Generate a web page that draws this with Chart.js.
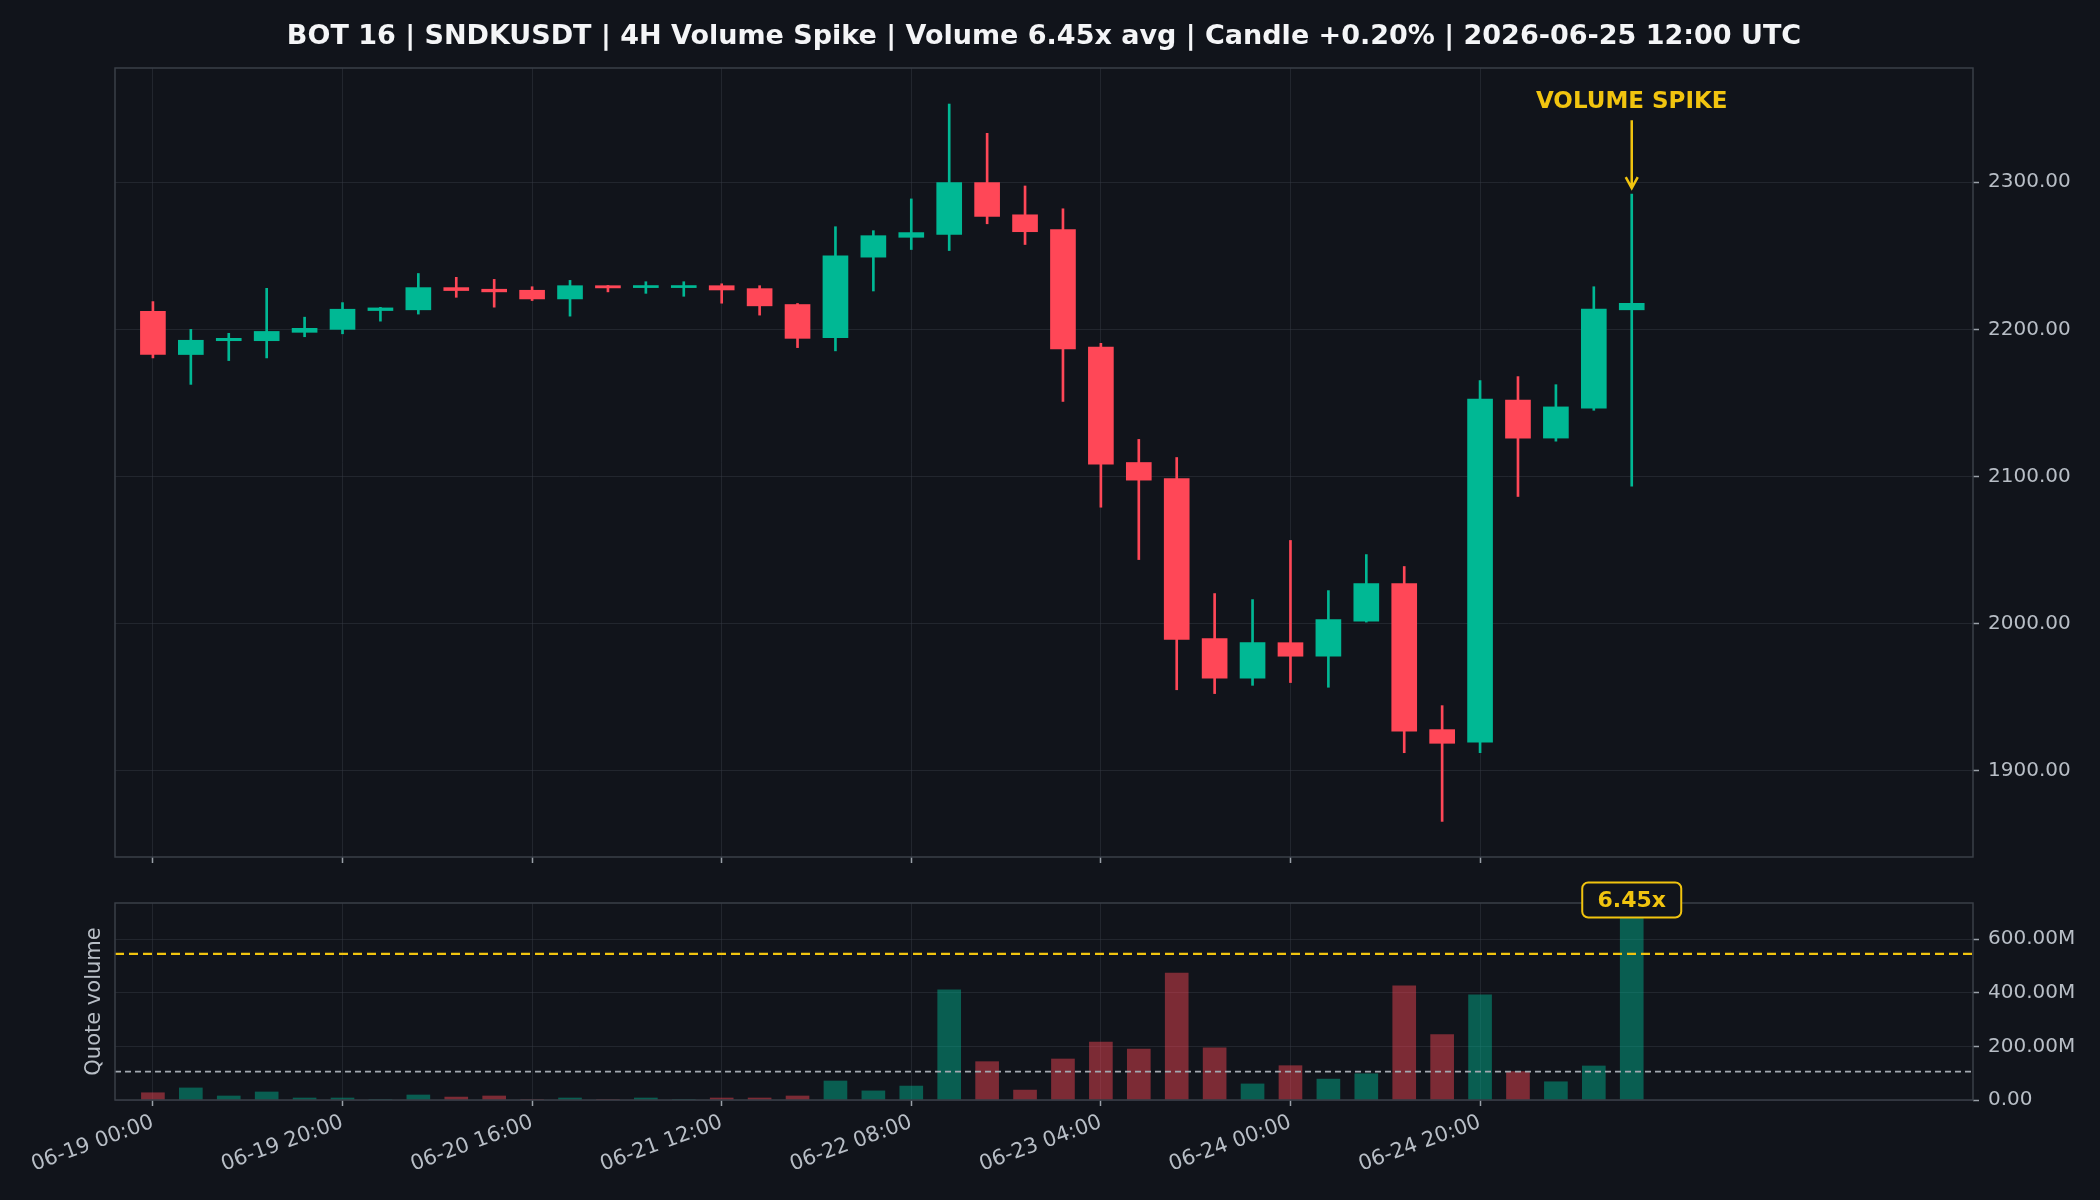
<!DOCTYPE html>
<html>
<head>
<meta charset="utf-8">
<script src="https://cdn.jsdelivr.net/npm/chart.js@4.4.1/dist/chart.umd.min.js"></script>
<style>
  html, body { margin: 0; padding: 0; background: #11141b; }
  #wrap { position: relative; width: 2100px; height: 1200px; overflow: hidden; }
  canvas { position: absolute; left: 0; }
  #priceChart { top: 0; }
  #volChart { top: 860px; }
</style>
</head>
<body>
<div id="wrap">
  <canvas id="priceChart" width="2100" height="880"></canvas>
  <canvas id="volChart" width="2100" height="340"></canvas>
</div>
<script>
// candle data (4H)
const opens  = [2212.2, 2182.9, 2192.3, 2192.3, 2198.0, 2200.0, 2212.8, 2213.3, 2228.4, 2227.3,
                2226.6, 2220.7, 2229.7, 2228.4, 2228.4, 2229.7, 2227.7, 2216.9, 2194.4, 2249.1,
                2262.6, 2264.6, 2299.8, 2277.9, 2267.8, 2188.0, 2109.5, 2098.6, 1989.8, 1962.8,
                1987.0, 1977.8, 2001.6, 2027.2, 1927.9, 1919.3, 2152.0, 2126.1, 2146.4, 2213.3];
const highs  = [2218.9, 2200.0, 2197.3, 2227.9, 2208.3, 2218.2, 2215.0, 2238.0, 2235.4, 2234.0,
                2229.0, 2233.3, 2229.9, 2232.4, 2232.4, 2231.0, 2229.7, 2217.6, 2269.8, 2267.1,
                2288.7, 2353.2, 2333.3, 2297.5, 2282.0, 2190.5, 2125.2, 2112.9, 2020.4, 2016.3,
                2056.5, 2022.4, 2046.9, 2038.8, 1944.2, 2165.2, 2167.9, 2162.4, 2229.0, 2291.9];
const lows   = [2180.6, 2162.6, 2178.8, 2180.6, 2195.0, 2197.0, 2205.6, 2210.4, 2221.8, 2215.1,
                2219.6, 2209.0, 2225.5, 2224.5, 2222.5, 2217.8, 2209.7, 2187.6, 2185.4, 2226.1,
                2254.3, 2253.6, 2271.8, 2257.7, 2151.0, 2079.1, 2043.5, 1955.0, 1952.4, 1958.0,
                1959.9, 1956.7, 2001.0, 1912.2, 1865.5, 1912.2, 2086.4, 2124.0, 2145.0, 2093.4];
const closes = [2182.9, 2192.6, 2193.9, 2198.6, 2200.7, 2213.7, 2214.6, 2228.4, 2226.4, 2225.5,
                2220.7, 2229.7, 2228.2, 2229.8, 2229.8, 2226.8, 2216.0, 2193.9, 2250.0, 2263.7,
                2265.8, 2299.8, 2276.8, 2266.4, 2186.7, 2108.4, 2097.5, 1989.3, 1962.8, 1987.0,
                1977.8, 2002.7, 2027.2, 1926.8, 1918.6, 2152.7, 2126.1, 2147.3, 2213.8, 2217.7];
// quote volume in millions
const volumesM = [27, 45, 15, 30, 7.5, 7.5, 1.5, 18.7, 11, 15,
                  1.5, 7.5, 1.5, 7.5, 1.5, 7.5, 7.5, 15, 71, 34,
                  52, 411, 143, 37, 153, 216, 190, 474, 195, 60,
                  128, 78, 98, 426, 244, 392, 106, 68, 127, 679];
const avgVolumeM = 106;
const thresholdM = 545;

const tickPositions = [0, 5, 10, 15, 20, 25, 30, 35];
const tickLabels = ['06-19 00:00', '06-19 20:00', '06-20 16:00', '06-21 12:00',
                    '06-22 08:00', '06-23 04:00', '06-24 00:00', '06-24 20:00'];
const priceTicks = [1900, 2000, 2100, 2200, 2300];
const volumeTicksM = [0, 200, 400, 600];

const titleText = 'BOT 16 | SNDKUSDT | 4H Volume Spike | Volume 6.45x avg | Candle +0.20% | 2026-06-25 12:00 UTC';
const spikeLabel = '6.45x';
const spikeIndex = 39;

const BG = '#11141b';
const GREEN = '#00b894';
const RED = '#ff4757';
const GREEN_VOL = 'rgba(0, 184, 148, 0.45)';
const RED_VOL = 'rgba(255, 71, 87, 0.45)';
const YELLOW = '#f1c40f';
const GRID = 'rgba(55, 60, 72, 0.45)';
const TICK = '#9aa0a8';
const TEXT = '#b8bec6';
const BORDER = '#3a3f48';

Chart.defaults.font.family = '"DejaVu Sans", sans-serif';

const isUp = opens.map((o, i) => closes[i] >= o);

// draw the full frame round each panel
const panelBorder = {
  id: 'panelBorder',
  afterDraw(chart) {
    const a = chart.chartArea, ctx = chart.ctx;
    ctx.save();
    ctx.strokeStyle = BORDER;
    ctx.lineWidth = 1.5;
    ctx.strokeRect(a.left, a.top, a.right - a.left, a.bottom - a.top);
    ctx.restore();
  }
};

const priceNotes = {
  id: 'priceNotes',
  afterDraw(chart) {
    const ctx = chart.ctx;
    const a = chart.chartArea;
    const xs = chart.scales.x, ys = chart.scales.y;
    ctx.save();
    // title, centred over the plot
    ctx.fillStyle = '#f4f5f7';
    ctx.font = 'bold 27px "DejaVu Sans"';
    ctx.textAlign = 'center';
    ctx.textBaseline = 'middle';
    ctx.fillText(titleText, (a.left + a.right) / 2, 37);

    // volume spike arrow
    const sx = xs.getPixelForValue(spikeIndex);
    const tip = ys.getPixelForValue(highs[spikeIndex]) - 6;
    ctx.strokeStyle = YELLOW;
    ctx.lineWidth = 2.5;
    ctx.beginPath();
    ctx.moveTo(sx, tip - 68);
    ctx.lineTo(sx, tip);
    ctx.moveTo(sx - 6, tip - 11);
    ctx.lineTo(sx, tip);
    ctx.lineTo(sx + 6, tip - 11);
    ctx.stroke();
    ctx.fillStyle = YELLOW;
    ctx.font = 'bold 23px "DejaVu Sans"';
    ctx.textBaseline = 'alphabetic';
    ctx.fillText('VOLUME SPIKE', sx, tip - 80);
    ctx.restore();
  }
};

const volNotes = {
  id: 'volNotes',
  afterDraw(chart) {
    const ctx = chart.ctx;
    const a = chart.chartArea;
    const xs = chart.scales.x, ys = chart.scales.y;
    ctx.save();
    // y label on the left
    ctx.translate(95, (a.top + a.bottom) / 2);
    ctx.rotate(-Math.PI / 2);
    ctx.fillStyle = TEXT;
    ctx.font = '21px "DejaVu Sans"';
    ctx.textAlign = 'center';
    ctx.textBaseline = 'middle';
    ctx.fillText('Quote volume', 0, 0);
    ctx.restore();

    // ratio badge over the spike bar
    const bx = xs.getPixelForValue(spikeIndex);
    const by = ys.getPixelForValue(volumesM[spikeIndex]) - 18;
    const w = 99, h = 35;
    ctx.save();
    ctx.beginPath();
    ctx.roundRect(bx - w / 2, by - h / 2, w, h, 6);
    ctx.fillStyle = BG;
    ctx.fill();
    ctx.strokeStyle = YELLOW;
    ctx.lineWidth = 2;
    ctx.stroke();
    ctx.fillStyle = YELLOW;
    ctx.font = 'bold 22px "DejaVu Sans"';
    ctx.textAlign = 'center';
    ctx.textBaseline = 'middle';
    ctx.fillText(spikeLabel, bx, by + 1);
    ctx.restore();
  }
};

function xScale(showLabels) {
  return {
    type: 'linear', min: -1, max: 48, offset: false, z: 1,
    grid: { color: GRID, offset: false, tickColor: TICK, tickLength: 6, tickWidth: 1.5 },
    border: { display: false },
    ticks: {
      display: showLabels, color: TEXT, font: { size: 21 }, autoSkip: false,
      minRotation: 20, maxRotation: 20, padding: 4,
      callback: (v, i) => tickLabels[i]
    },
    afterBuildTicks: s => { s.ticks = tickPositions.map(v => ({ value: v })); },
    afterFit: s => { s.height = showLabels ? 100 : 23; }
  };
}

// price panel
new Chart(document.getElementById('priceChart'), {
  type: 'bar',
  data: {
    datasets: [
      {
        label: 'wick',
        data: lows.map((l, i) => ({ x: i, y: [l, highs[i]] })),
        backgroundColor: isUp.map(u => u ? GREEN : RED),
        barThickness: 2,
        grouped: false,
        order: 2
      },
      {
        label: 'body',
        data: opens.map((o, i) => ({ x: i, y: [o, closes[i]] })),
        backgroundColor: isUp.map(u => u ? GREEN : RED),
        barThickness: 25,
        grouped: false,
        order: 1
      }
    ]
  },
  options: {
    responsive: false,
    animation: false,
    devicePixelRatio: 1,
    layout: { padding: { left: 115, top: 68, right: 0, bottom: 0 } },
    plugins: { legend: { display: false }, tooltip: { enabled: false } },
    scales: {
      x: xScale(false),
      y: {
        type: 'linear', position: 'right', min: 1841.3, max: 2377.7, z: 1,
        grid: { color: GRID, tickColor: TICK, tickLength: 6, tickWidth: 1.5 },
        border: { display: false },
        ticks: { color: TEXT, font: { size: 20 }, padding: 9, callback: v => v.toFixed(2) },
        afterBuildTicks: s => { s.ticks = priceTicks.map(v => ({ value: v })); },
        afterFit: s => { s.width = 127; }
      }
    }
  },
  plugins: [panelBorder, priceNotes]
});

// volume panel
new Chart(document.getElementById('volChart'), {
  type: 'bar',
  data: {
    datasets: [
      {
        type: 'line',
        label: 'spike threshold',
        data: [{ x: -1, y: thresholdM }, { x: 48, y: thresholdM }],
        borderColor: YELLOW,
        borderWidth: 2.3,
        borderDash: [9, 5],
        pointRadius: 0,
        order: 1
      },
      {
        type: 'line',
        label: 'average',
        data: [{ x: -1, y: avgVolumeM }, { x: 48, y: avgVolumeM }],
        borderColor: '#a4aab2',
        borderWidth: 1.6,
        borderDash: [6, 4],
        pointRadius: 0,
        order: 2
      },
      {
        label: 'Quote volume',
        data: volumesM.map((v, i) => ({ x: i, y: v })),
        backgroundColor: isUp.map(u => u ? GREEN_VOL : RED_VOL),
        barThickness: 23,
        grouped: false,
        order: 3
      }
    ]
  },
  options: {
    responsive: false,
    animation: false,
    devicePixelRatio: 1,
    layout: { padding: { left: 115, top: 43, right: 0, bottom: 0 } },
    plugins: { legend: { display: false }, tooltip: { enabled: false } },
    scales: {
      x: xScale(true),
      y: {
        type: 'linear', position: 'right', min: 0, max: 735, z: 1,
        grid: { color: GRID, tickColor: TICK, tickLength: 6, tickWidth: 1.5 },
        border: { display: false },
        ticks: { color: TEXT, font: { size: 20 }, padding: 9,
                 callback: v => v === 0 ? '0.00' : v.toFixed(2) + 'M' },
        afterBuildTicks: s => { s.ticks = volumeTicksM.map(v => ({ value: v })); },
        afterFit: s => { s.width = 127; }
      }
    }
  },
  plugins: [panelBorder, volNotes]
});
</script>
</body>
</html>
